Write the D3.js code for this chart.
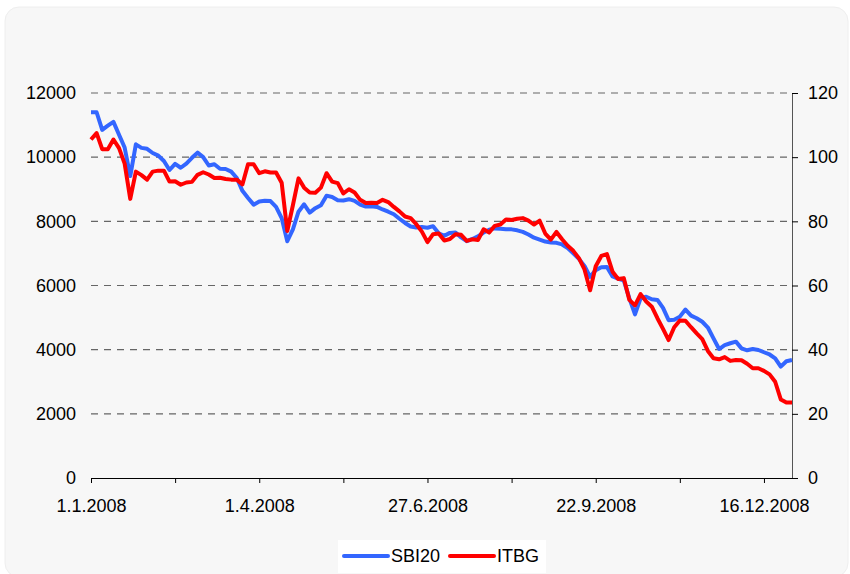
<!DOCTYPE html>
<html>
<head>
<meta charset="utf-8">
<script src="https://cdn.jsdelivr.net/npm/d3@7"></script>
<style>
  body { margin: 0; background: #fff; }
  text { font-family: "Liberation Sans", Arial, sans-serif; fill: #000; }
</style>
</head>
<body>
<script>
// one value per sample, roughly every second trading day of 2008
const sbi20 = [
  11400, 11400, 10850, 10980, 11100, 10700, 10300, 9410, 10400, 10290,
  10260, 10130, 10050, 9880, 9600, 9790, 9670, 9800, 9980, 10140,
  10000, 9740, 9780, 9640, 9630, 9550, 9350, 8950, 8730, 8520,
  8620, 8640, 8630, 8450, 8100, 7380, 7750, 8300, 8530, 8270,
  8410, 8500, 8800, 8760, 8660, 8650, 8690, 8640, 8520, 8460,
  8470, 8450, 8370, 8300, 8220, 8080, 7950, 7840, 7810, 7820,
  7800, 7850, 7630, 7550, 7640, 7650, 7500, 7380, 7450, 7530,
  7650, 7740, 7780, 7770, 7750, 7750, 7720, 7670, 7590, 7490,
  7430, 7370, 7340, 7330, 7280, 7170, 7000, 6830, 6610, 6270,
  6480, 6570, 6580, 6280, 6210, 6160, 5600, 5100, 5600, 5650,
  5570, 5550, 5300, 4920, 4930, 5030, 5250, 5060, 4980, 4870,
  4690, 4350, 4020, 4140, 4200, 4250, 4040, 3980, 4020, 3990,
  3920, 3850, 3730, 3470, 3640, 3680
];
const itbg = [
  105.5, 107.5, 102.5, 102.5, 105.5, 102.8, 98, 87, 95.5, 94.4,
  93, 95.5, 95.8, 95.8, 92.4, 92.5, 91.4, 92.1, 92.3, 94.5,
  95.3, 94.6, 93.5, 93.6, 93.2, 93.0, 93.0, 91.5, 97.8, 97.8,
  95.0, 95.6, 95.2, 95.2, 92.0, 77.0, 85.0, 93.4, 90.5, 89.0,
  88.9, 90.5, 95.0, 92.4, 91.9, 88.7, 90.0, 89.0, 86.7, 85.7,
  85.8, 85.7, 86.7, 86.0, 84.5, 83.1, 81.5, 81.0, 79.1, 76.8,
  73.5, 76.0, 76.2, 74.0, 74.5, 76.0, 75.8, 73.9, 74.4, 74.2,
  77.5, 76.5, 78.6, 79.0, 80.6, 80.4, 80.8, 81.0, 80.2, 79.0,
  80.2, 76.2, 74.3, 76.7, 74.4, 72.4, 70.8, 68.5, 65.0, 58.5,
  66.0, 69.2, 69.8, 64.3, 62.0, 62.3, 55.5, 53.8, 57.3, 55.0,
  53.4, 49.8, 46.5, 43.0, 47.0, 49.1, 49.0, 47.0, 45.1, 43.3,
  39.6, 37.3, 37.0, 37.7, 36.5, 36.8, 36.7, 35.6, 34.2, 34.2,
  33.4, 32.3, 30.0, 24.5, 23.5, 23.5
];
const tickIdx = [0, 15, 30, 45, 60, 75, 90, 105, 120];
const tickLabels = ["1.1.2008", "", "1.4.2008", "", "27.6.2008", "", "22.9.2008", "", "16.12.2008"];
const leftTicks = [0, 2000, 4000, 6000, 8000, 10000, 12000];
const rightTicks = [0, 20, 40, 60, 80, 100, 120];
const seriesNames = ["SBI20", "ITBG"];
const seriesColors = ["#3366ff", "#ff0000"];

const W = 850, H = 574;
const m = {left: 91, right: 792, top: 93, bottom: 478};

const svg = d3.select("body").append("svg")
  .attr("width", W)
  .attr("height", H);

svg.append("rect")
  .attr("x", 5).attr("y", 7)
  .attr("width", 843).attr("height", 570)
  .attr("rx", 14)
  .attr("fill", "#f7f7f7")
  .attr("stroke", "#eeeeee");

const x = d3.scaleLinear().domain([0, sbi20.length - 1]).range([m.left, m.right]);
const yL = d3.scaleLinear().domain([0, 12000]).range([m.bottom, m.top]);
const yR = d3.scaleLinear().domain([0, 120]).range([m.bottom, m.top]);

// dashed grid
svg.append("g")
  .selectAll("line")
  .data(leftTicks.filter(d => d > 0))
  .enter().append("line")
  .attr("x1", m.left).attr("x2", m.right)
  .attr("y1", d => yL(d)).attr("y2", d => yL(d))
  .attr("stroke", "#666")
  .attr("stroke-width", 1.2)
  .attr("stroke-dasharray", "7,6");

// left axis, labels only
const gl = svg.append("g")
  .attr("transform", `translate(${m.left},0)`)
  .call(d3.axisLeft(yL).tickValues(leftTicks).tickFormat(d3.format("d"))
    .tickSize(0).tickPadding(15));
gl.select(".domain").remove();

// right axis
const gr = svg.append("g")
  .attr("transform", `translate(${m.right},0)`)
  .call(d3.axisRight(yR).tickValues(rightTicks).tickSize(6).tickPadding(10));

// bottom axis
const gb = svg.append("g")
  .attr("transform", `translate(0,${m.bottom})`)
  .call(d3.axisBottom(x).tickValues(tickIdx)
    .tickFormat((d, i) => tickLabels[i])
    .tickSize(5).tickSizeOuter(0).tickPadding(16));

[gl, gr, gb].forEach(g => {
  g.selectAll("text").style("font-size", "18px").attr("fill", "#000");
  g.selectAll("line").attr("stroke", "#000");
  g.select(".domain").attr("stroke", "#000");
});
gr.select(".domain").attr("stroke", "#555");

// series
const lineL = d3.line().x((d, i) => x(i)).y(d => yL(d));
const lineR = d3.line().x((d, i) => x(i)).y(d => yR(d));

svg.append("path")
  .datum(sbi20)
  .attr("d", lineL)
  .attr("fill", "none")
  .attr("stroke", seriesColors[0])
  .attr("stroke-width", 4)
  .attr("stroke-linejoin", "round");

svg.append("path")
  .datum(itbg)
  .attr("d", lineR)
  .attr("fill", "none")
  .attr("stroke", seriesColors[1])
  .attr("stroke-width", 4)
  .attr("stroke-linejoin", "round");

// legend
const lg = svg.append("g");
lg.append("rect")
  .attr("x", 338).attr("y", 540)
  .attr("width", 208).attr("height", 33)
  .attr("fill", "#fff");
const items = lg.selectAll(".item")
  .data(seriesNames)
  .enter().append("g")
  .attr("class", "item")
  .attr("transform", (d, i) => `translate(${i ? 450 : 344},556)`);
items.append("line")
  .attr("x1", 0).attr("x2", 44)
  .attr("stroke", (d, i) => seriesColors[i])
  .attr("stroke-width", 4)
  .attr("stroke-linecap", "round");
items.append("text")
  .attr("x", 47).attr("y", 6)
  .style("font-size", "18px")
  .text(d => d);
</script>
</body>
</html>
